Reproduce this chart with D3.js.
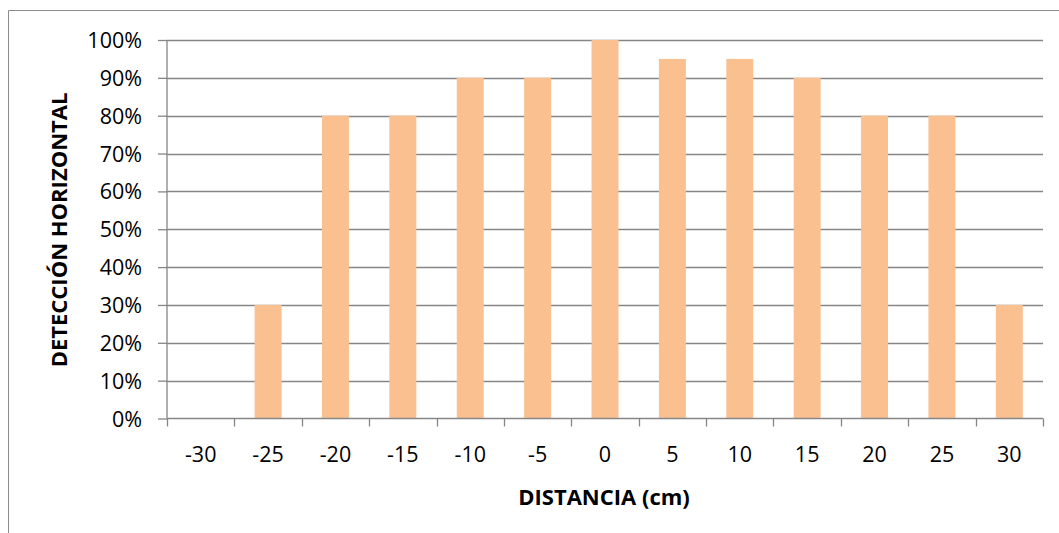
<!DOCTYPE html>
<html>
<head>
<meta charset="utf-8">
<script src="https://cdn.jsdelivr.net/npm/d3@7"></script>
<style>
  html, body { margin: 0; padding: 0; background: #fff; }
  svg { display: block; font-family: "Open Sans", sans-serif; }
</style>
</head>
<body>
<svg id="chart" width="1059" height="533"></svg>
<script>
const categories = ["-30", "-25", "-20", "-15", "-10", "-5", "0", "5", "10", "15", "20", "25", "30"];
const values = [0, 0.30, 0.80, 0.80, 0.90, 0.90, 1.00, 0.95, 0.95, 0.90, 0.80, 0.80, 0.30];
const yTicks = [0, 0.1, 0.2, 0.3, 0.4, 0.5, 0.6, 0.7, 0.8, 0.9, 1.0];
const xTitle = "DISTANCIA (cm)";
const yTitle = "DETECCIÓN HORIZONTAL";

(function () {
const svg = d3.select("#chart");
const pLeft = 167, pRight = 1043, pTop = 40, pBottom = 418.5;
const axisColor = "#868686";

// outer chart border (top and left visible)
svg.append("line").attr("x1", 8.5).attr("x2", 1059).attr("y1", 10.5).attr("y2", 10.5)
  .attr("stroke", "#8c8c8c").attr("stroke-width", 1);
svg.append("line").attr("x1", 8.5).attr("x2", 8.5).attr("y1", 10.5).attr("y2", 533)
  .attr("stroke", "#8c8c8c").attr("stroke-width", 1);

const x = d3.scaleBand().domain(categories).range([pLeft, pRight]).paddingInner(0.6).paddingOuter(0.3);
const y = d3.scaleLinear().domain([0, 1]).range([pBottom, pTop]);

// gridlines
svg.append("g").selectAll("line").data(yTicks.filter(d => d > 0)).join("line")
  .attr("x1", pLeft).attr("x2", pRight)
  .attr("y1", d => Math.round(y(d)) + 0.5).attr("y2", d => Math.round(y(d)) + 0.5)
  .attr("stroke", axisColor).attr("stroke-width", 1.3);

// bars
svg.append("g").selectAll("rect").data(categories.map((c, i) => ({c, v: values[i]})).filter(d => d.v > 0)).join("rect")
  .attr("x", d => x(d.c)).attr("width", x.bandwidth())
  .attr("y", d => y(d.v)).attr("height", d => y(0) - y(d.v))
  .attr("fill", "#FAC090");

// y axis
const yAxis = d3.axisLeft(y).tickValues(yTicks).tickFormat(d3.format(".0%")).tickSize(9).tickPadding(16);
const gy = svg.append("g").attr("transform", `translate(${pLeft},0)`).call(yAxis);
gy.select(".domain").attr("stroke", axisColor).attr("stroke-width", 1.3).attr("d", `M0,${pTop}V${pBottom}`);
gy.selectAll(".tick line").attr("stroke", axisColor).attr("stroke-width", 1.3);
gy.selectAll(".tick text").attr("font-size", 21.5).attr("fill", "#000").attr("font-family", "Open Sans").attr("dy", "0.35em");

// x axis with ticks at band boundaries
const step = x.step();
const boundaries = d3.range(categories.length + 1).map(i => pLeft + i * step);
const gx = svg.append("g");
gx.append("line").attr("x1", pLeft).attr("x2", pRight).attr("y1", pBottom).attr("y2", pBottom)
  .attr("stroke", axisColor).attr("stroke-width", 1.3);
gx.selectAll("line.tk").data(boundaries).join("line").attr("class", "tk")
  .attr("x1", d => Math.round(d) + 0.5).attr("x2", d => Math.round(d) + 0.5)
  .attr("y1", pBottom).attr("y2", pBottom + 8)
  .attr("stroke", axisColor).attr("stroke-width", 1.3);
gx.selectAll("text").data(categories).join("text")
  .attr("x", d => x(d) + x.bandwidth() / 2).attr("y", 462)
  .attr("text-anchor", "middle").attr("font-size", 21.5).attr("fill", "#000")
  .text(d => d);

// axis titles
svg.append("text").attr("x", 604).attr("y", 505).attr("text-anchor", "middle")
  .attr("font-size", 22).attr("font-weight", "bold").attr("fill", "#000").text(xTitle);
svg.append("text").attr("transform", "translate(67,230) rotate(-90)").attr("text-anchor", "middle")
  .attr("font-size", 22).attr("font-weight", "bold").attr("fill", "#000").text(yTitle);
})();
</script>
</body>
</html>
